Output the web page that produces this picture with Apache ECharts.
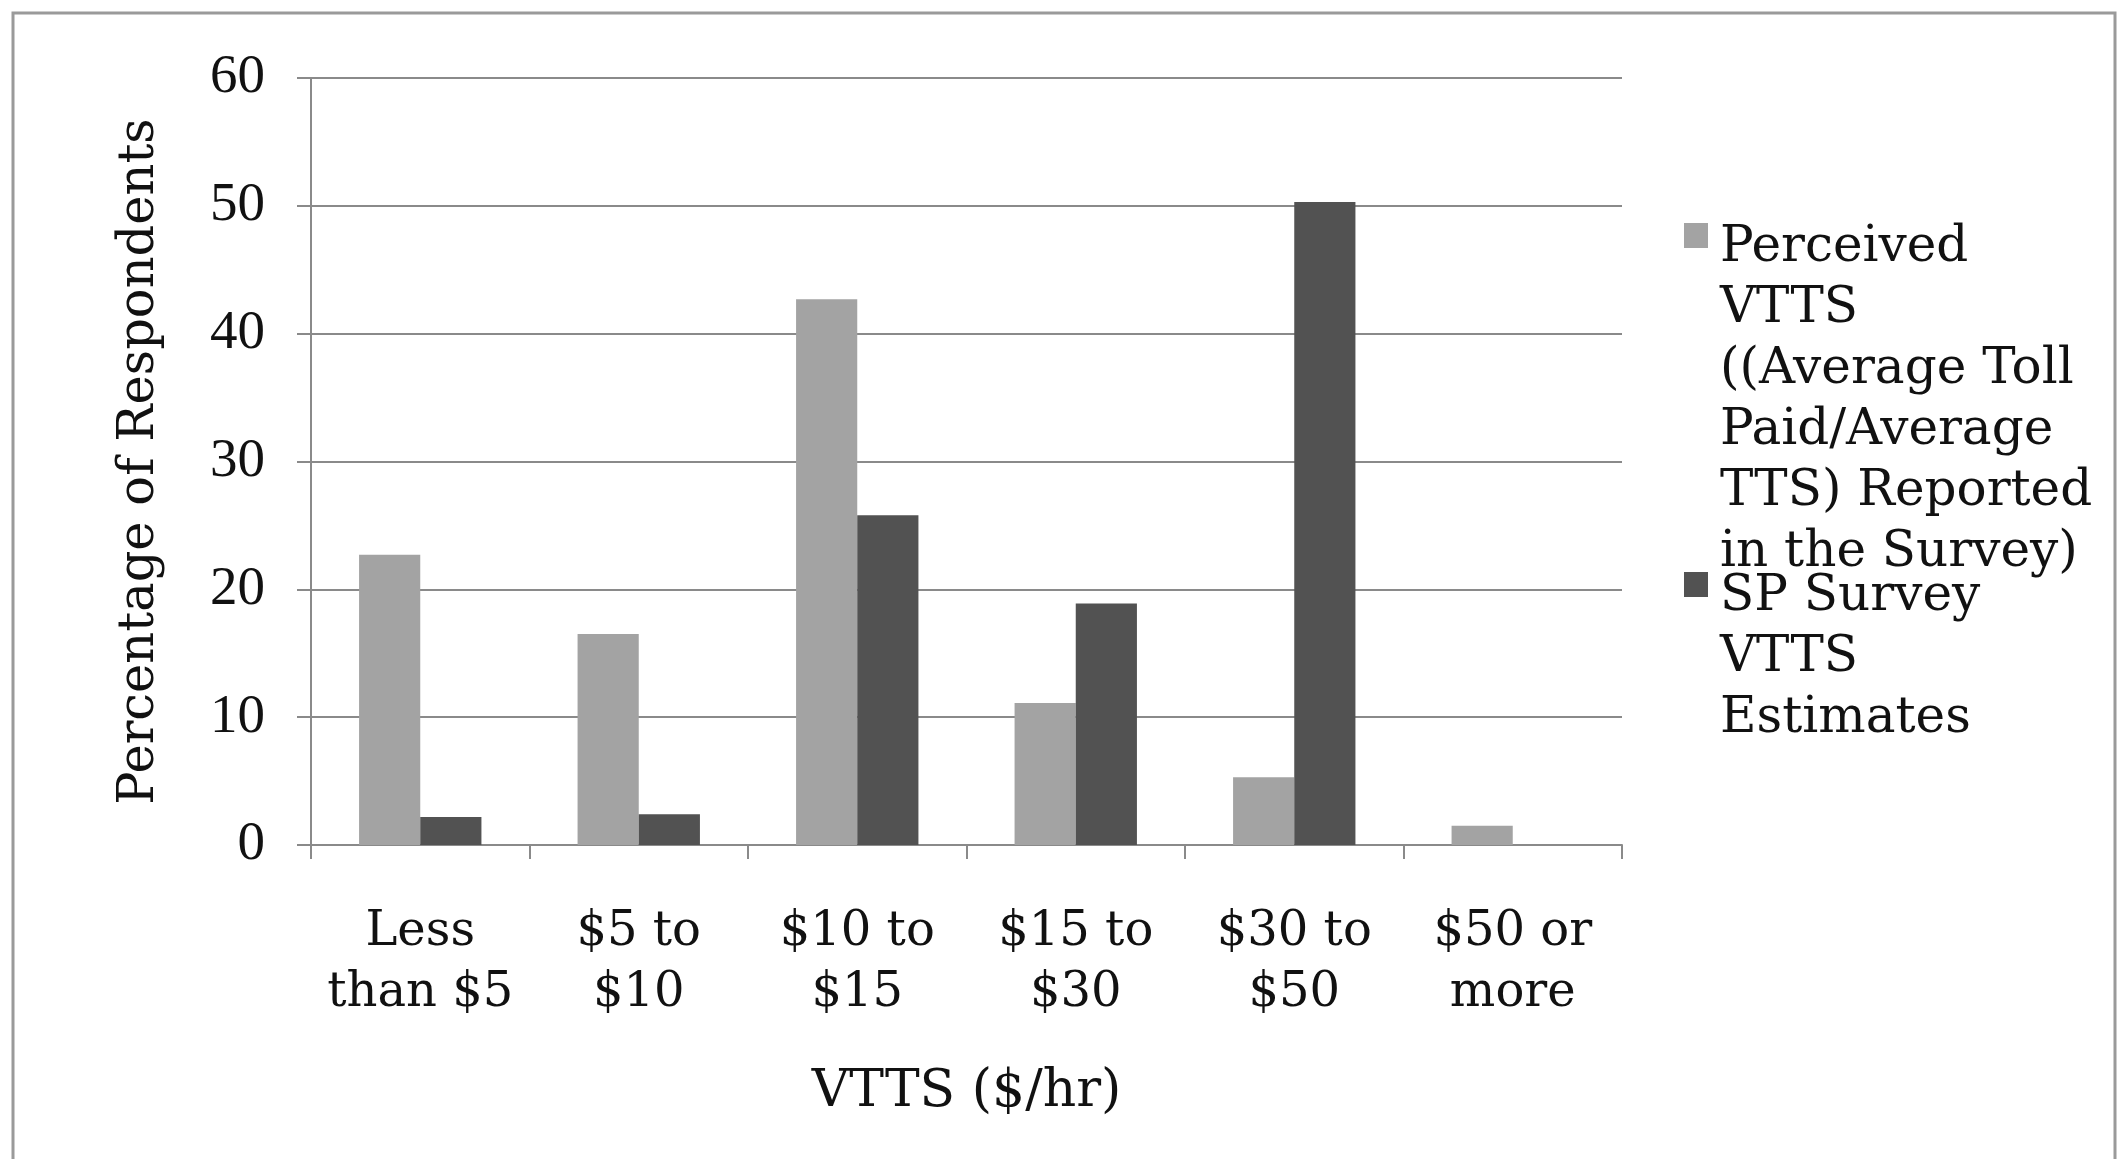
<!DOCTYPE html>
<html>
<head>
    <meta charset="utf-8">
    <title>VTTS</title>
    <script src="https://cdn.jsdelivr.net/npm/echarts@6/dist/echarts.min.js"></script>
    <style>
      html, body { margin: 0; padding: 0; background: #fff; }
    </style>
</head>
<body>
    <div id="main" style="width: 2119px;height:1159px;"></div>
    <script type="text/javascript">
        // data
        var categories = ['Less\nthan $5', '$5 to\n$10', '$10 to\n$15', '$15 to\n$30', '$30 to\n$50', '$50 or\nmore'];
        var perceived = [22.7, 16.5, 42.7, 11.1, 5.3, 1.5];
        var spSurvey = [2.2, 2.4, 25.8, 18.9, 50.3, 0];
        var yMin = 0, yMax = 60, yStep = 10;

        var perceivedName = 'Perceived VTTS ((Average Toll Paid/Average TTS) Reported in the Survey)';
        var spName = 'SP Survey VTTS Estimates';
        var perceivedLines = ['Perceived', 'VTTS', '((Average Toll', 'Paid/Average', 'TTS) Reported', 'in the Survey)'];
        var spLines = ['SP Survey', 'VTTS', 'Estimates'];

        var lightColor = '#a3a3a3';
        var darkColor = '#525252';
        var font = 'DejaVu Serif';

        function legendText(lines, key) {
          return lines.map(function(l, i) {
            return (i === 0 ? '{' + key + '| }{g| }' : '{pad| }') + '{t|' + l + '}';
          }).join('\n');
        }

        // square token: transparent strip on top so the square sits by the caps
        function squareBg(c) {
          return new echarts.graphic.LinearGradient(0, 0, 0, 1, [
            { offset: 0, color: 'rgba(255,255,255,0)' },
            { offset: 0.18, color: 'rgba(255,255,255,0)' },
            { offset: 0.18, color: c },
            { offset: 1, color: c }
          ]);
        }

        var legendRich = {
          t: { fontFamily: font, fontSize: 50, lineHeight: 61, color: '#111' },
          sqL: { width: 24, height: 30, backgroundColor: squareBg(lightColor), verticalAlign: 'top', lineHeight: 61 },
          sqD: { width: 24, height: 30, backgroundColor: squareBg(darkColor), verticalAlign: 'top', lineHeight: 61 },
          g: { width: 12, lineHeight: 61 },
          pad: { width: 36, lineHeight: 61 }
        };

        function makeLegend(name, lines, key, top) {
          return {
            data: [name],
            left: 1679,
            top: top,
            orient: 'vertical',
            padding: 0,
            itemWidth: 0,
            itemHeight: 0,
            selectedMode: false,
            itemStyle: { opacity: 0 },
            formatter: function() { return legendText(lines, key); },
            textStyle: { rich: legendRich }
          };
        }

        var myChart = echarts.init(document.getElementById('main'));
        var option = {
            backgroundColor: '#fff',
            animation: false,
            graphic: [{
              type: 'rect',
              shape: { x: 13, y: 13, width: 2102, height: 1170 },
              style: { fill: 'none', stroke: '#9a9a9a', lineWidth: 3 },
              silent: true
            }],
            legend: [
              makeLegend(perceivedName, perceivedLines, 'sqL', 218),
              makeLegend(spName, spLines, 'sqD', 567)
            ],
            grid: { left: 311, right: 497, top: 78, bottom: 314 },
            xAxis: {
              type: 'category',
              data: categories,
              name: 'VTTS ($/hr)',
              nameLocation: 'middle',
              nameGap: 221,
              nameTextStyle: { fontFamily: font, fontSize: 52, color: '#111' },
              axisLine: { lineStyle: { color: '#8a8a8a', width: 2 } },
              axisTick: { show: true, length: 14, lineStyle: { color: '#8a8a8a', width: 2 } },
              axisLabel: { fontFamily: font, fontSize: 48, lineHeight: 61, color: '#111', margin: 57, interval: 0 }
            },
            yAxis: {
              type: 'value',
              min: yMin,
              max: yMax,
              interval: yStep,
              name: 'Percentage of Respondents',
              nameLocation: 'middle',
              nameGap: 146,
              nameTextStyle: { fontFamily: font, fontSize: 49.5, color: '#111' },
              axisLine: { show: true, lineStyle: { color: '#8a8a8a', width: 2 } },
              axisTick: { show: true, length: 14, lineStyle: { color: '#8a8a8a', width: 2 } },
              axisLabel: { fontFamily: 'Liberation Serif', fontSize: 55, color: '#111', margin: 46 },
              splitLine: { lineStyle: { color: '#8a8a8a', width: 2 } }
            },
            series: [{
                name: perceivedName,
                type: 'bar',
                data: perceived,
                barGap: '0%',
                barCategoryGap: '44%',
                itemStyle: { color: lightColor }
            }, {
                name: spName,
                type: 'bar',
                data: spSurvey,
                barGap: '0%',
                barCategoryGap: '44%',
                itemStyle: { color: darkColor }
            }]
        };
        myChart.setOption(option);
    </script>
</body>
</html>
